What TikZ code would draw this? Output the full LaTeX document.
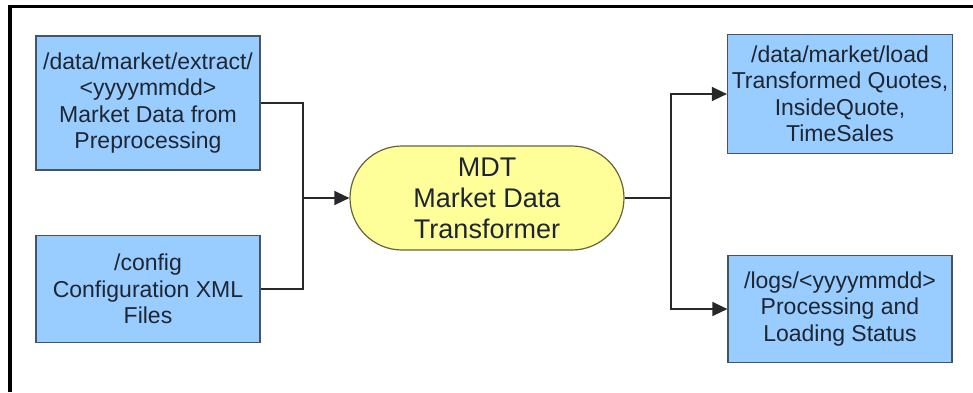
\documentclass[tikz,border=0pt]{standalone}
\usepackage{fontspec}
\setmainfont{Liberation Sans}
\usetikzlibrary{arrows.meta, positioning, calc}
\definecolor{dirFill}{RGB}{153, 204, 255}
\definecolor{dirLine}{RGB}{70, 85, 100}
\definecolor{procFill}{RGB}{255, 255, 153}
\definecolor{procLine}{RGB}{100, 100, 60}
\definecolor{labelText}{RGB}{30, 38, 50}
\definecolor{wireColor}{RGB}{40, 40, 40}

\begin{document}
\begin{tikzpicture}[x=1pt, y=-1pt,
    dirbox/.style={draw=dirLine, line width=1.2pt, fill=dirFill, text=labelText,
        align=center, inner sep=0pt, minimum width=224pt,
        font=\fontsize{23}{26.5}\selectfont},
    procbox/.style={draw=procLine, line width=1.2pt, fill=procFill, text=labelText,
        align=center, inner sep=0pt, minimum width=274pt, minimum height=104pt,
        rounded corners=52pt, font=\fontsize{27}{31}\selectfont},
    wire/.style={draw=wireColor, line width=1.4pt},
    flow/.style={wire, -{Triangle[length=15pt, width=14pt]}}]
\useasboundingbox (0,0) rectangle (973,392);

% Frame (cut)
\draw[line width=3.5pt] (10,392) -- (10,6.5) -- (973,6.5);

% Inputs
\node[dirbox, minimum height=134pt] (extract) at (148,103)
    {/data/market/extract/\\<yyyymmdd>\\Market Data from\\Preprocessing};
\node[dirbox, minimum height=107pt] (config) at (148,289)
    {/config\\Configuration XML\\Files};

% Transformer
\node[procbox] (mdt) at (487,198) {MDT\\Market Data\\Transformer};

% Outputs
\node[dirbox, minimum width=225pt, minimum height=119pt] (load) at (840,94)
    {/data/market/load\\Transformed Quotes,\\InsideQuote,\\TimeSales};
\node[dirbox, minimum height=107pt] (logs) at (840,309)
    {/logs/<yyyymmdd>\\Processing and\\Loading Status};

% Connectors
\coordinate (joinIn) at (303,198);
\coordinate (joinOut) at (671,198);
\draw[wire] (extract.east) -| (joinIn) |- (config.east);
\draw[flow] (joinIn) -- (mdt.west);
\draw[wire] (mdt.east) -- (joinOut);
\draw[flow] (joinOut) |- (load.west);
\draw[flow] (joinOut) |- (logs.west);
\end{tikzpicture}
\end{document}
